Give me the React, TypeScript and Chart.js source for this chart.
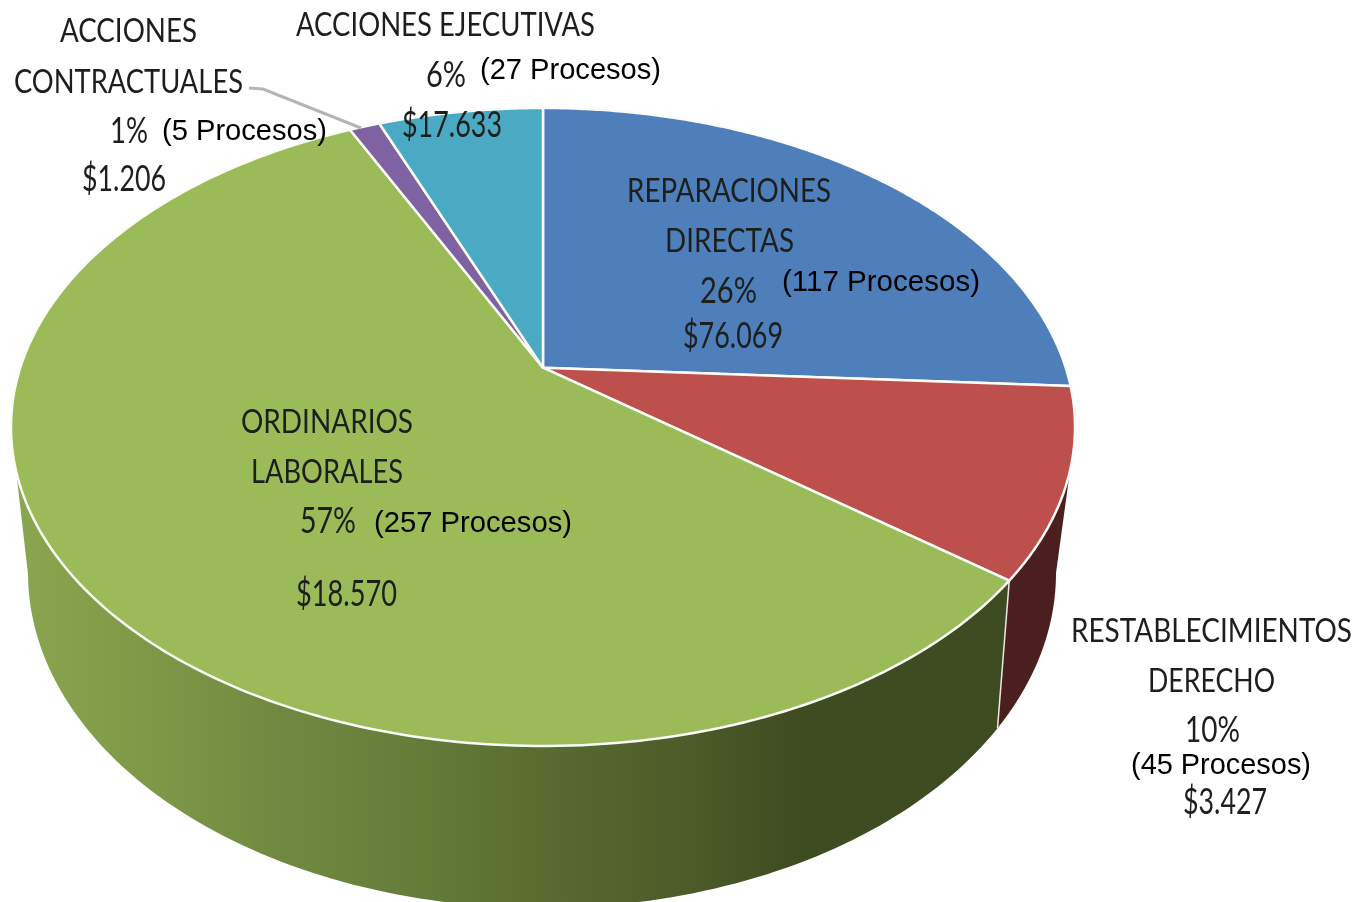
import React, { useEffect, useRef } from "react";
import { Chart, registerables, ArcElement, PieController } from "chart.js";

const categories = ["REPARACIONES DIRECTAS", "RESTABLECIMIENTOS DERECHO", "ORDINARIOS LABORALES", "ACCIONES CONTRACTUALES", "ACCIONES EJECUTIVAS"];
const processCounts = [117, 45, 257, 5, 27];
const sliceColors = ["#4f7fba", "#bd4f4c", "#9bbb59", "#7f62a1", "#4aaac4"];

const condensedTexts = [
  "ACCIONES", "CONTRACTUALES", "1%", "$1.206",
  "ACCIONES EJECUTIVAS", "6%", "$17.633",
  "REPARACIONES", "DIRECTAS", "26%", "$76.069",
  "ORDINARIOS", "LABORALES", "57%", "$18.570",
  "RESTABLECIMIENTOS", "DERECHO", "10%", "$3.427",
];
// left, right, baseline
const condensedBoxes = [
  [60, 197, 42], [14, 243, 93], [110, 148, 143], [82, 166, 191],
  [296, 595, 36], [426, 466, 87], [402, 502, 137],
  [627, 831, 202], [665, 794, 252], [700, 757, 303], [683, 783, 348],
  [241, 413, 433], [251, 403, 483], [300, 356, 533], [296, 397, 606],
  [1071, 1352, 642], [1148, 1275, 692], [1185, 1240, 742], [1183, 1267, 814],
];
const processTexts = ["(5 Procesos)", "(27 Procesos)", "(117 Procesos)", "(257 Procesos)", "(45 Procesos)"];
const processBoxes = [
  [162, 327, 140], [480, 661, 79], [782, 980, 291], [374, 572, 532], [1131, 1311, 774],
];

// geometry of the tilted disc
const DEG = Math.PI / 180;
const TOP = { cx: 543, cy: 427, rx: 532, ry: 319, k: -0.186 };
const BOTTOM = { cx: 542, cy: 573, rx: 514, ry: 335 };
const WALL_T_RIGHT = 7.8 * DEG;
const WALL_T_LEFT = 172.2 * DEG;
const WALL_T_SEAM = 28.7 * DEG;
const WALL_B_SEAM = 27.6 * DEG;

function apparentAngle(angle: number) {
  // small correction of the perspective along the front of the disc
  let theta = angle + Math.PI / 2;
  if (theta < 0) theta += 2 * Math.PI;
  const a = 93.39 * DEG;
  const b = 334.4 * DEG;
  if (theta <= a || theta >= b) return angle;
  return angle - 0.059 * Math.sin(0.75 * (theta - a));
}
function project(angleIn: number) {
  const angle = apparentAngle(angleIn);
  const u = Math.cos(angle);
  const v = Math.sin(angle);
  const d = 1 + TOP.k * v;
  const up = (Math.sqrt(1 - TOP.k * TOP.k) * u) / d;
  const vp = (v + TOP.k) / d;
  return { u: up, v: vp, t: Math.atan2(vp, up) };
}
const topPoint = (t: number) => [TOP.cx + TOP.rx * Math.cos(t), TOP.cy + TOP.ry * Math.sin(t)];
function bottomPoint(t: number) {
  const b =
    t <= WALL_T_SEAM
      ? ((t - WALL_T_RIGHT) / (WALL_T_SEAM - WALL_T_RIGHT)) * WALL_B_SEAM
      : WALL_B_SEAM + ((t - WALL_T_SEAM) / (WALL_T_LEFT - WALL_T_SEAM)) * (Math.PI - WALL_B_SEAM);
  return [BOTTOM.cx + BOTTOM.rx * Math.cos(b), BOTTOM.cy + BOTTOM.ry * Math.sin(b)];
}
function wallPaint(ctx: CanvasRenderingContext2D, index: number) {
  if (index === 1) return "#4c1f1f";
  const g = ctx.createLinearGradient(15, 0, 1010, 0);
  const stops: [number, string][] = [
    [0, "#8ba650"], [0.115, "#7f9b48"], [0.266, "#6f8a40"], [0.387, "#657f3a"],
    [0.53, "#586b30"], [0.68, "#4c5b29"], [0.79, "#3f4b20"], [1, "#3e4a20"],
  ];
  stops.forEach(([o, c]) => g.addColorStop(o, c));
  return g;
}

class PerspectiveArc extends (ArcElement as any) {
  static id = "perspectiveArc";
  draw(ctx: CanvasRenderingContext2D) {
    const { startAngle, endAngle } = this.getProps(["startAngle", "endAngle"], true);
    const index = (this as any).$context?.dataIndex ?? 0;
    const opts = this.options;
    const pts: number[][] = [];
    const ts: number[] = [];
    const N = 200;
    for (let i = 0; i <= N; i++) {
      const t = project(startAngle + ((endAngle - startAngle) * i) / N).t;
      pts.push(topPoint(t));
      if (t >= WALL_T_RIGHT && t <= WALL_T_LEFT) ts.push(t);
    }
    // side wall
    if (ts.length > 1) {
      ctx.save();
      ctx.beginPath();
      ts.forEach((t, i) => {
        const [x, y] = topPoint(t);
        if (i === 0) ctx.moveTo(x, y);
        else ctx.lineTo(x, y);
      });
      for (let i = ts.length - 1; i >= 0; i--) {
        const [x, y] = bottomPoint(ts[i]);
        ctx.lineTo(x, y);
      }
      ctx.closePath();
      ctx.fillStyle = wallPaint(ctx, index);
      ctx.fill();
      ctx.restore();
      if (index === 2) {
        const [x1, y1] = topPoint(ts[0]);
        const [x2, y2] = bottomPoint(WALL_T_SEAM);
        ctx.save();
        ctx.strokeStyle = "#e8e8e0";
        ctx.lineWidth = 1.5;
        ctx.beginPath();
        ctx.moveTo(x1, y1);
        ctx.lineTo(x2, y2);
        ctx.stroke();
        ctx.restore();
      }
    }
    // top surface
    ctx.save();
    const apex = [TOP.cx, TOP.cy + TOP.ry * TOP.k];
    ctx.beginPath();
    ctx.moveTo(apex[0], apex[1]);
    pts.forEach(([x, y]) => ctx.lineTo(x, y));
    ctx.closePath();
    ctx.fillStyle = opts.backgroundColor;
    ctx.fill();
    ctx.strokeStyle = opts.borderColor;
    ctx.lineWidth = opts.borderWidth;
    ctx.lineJoin = "round";
    ctx.stroke();
    ctx.restore();
  }
}

class PerspectivePie extends (PieController as any) {
  static id = "perspectivePie";
  static defaults = { dataElementType: "perspectiveArc" };
}

Chart.register(...registerables);
Chart.register(PerspectiveArc as any, PerspectivePie as any);

function fitText(ctx: CanvasRenderingContext2D, text: string, box: number[], font: string, color: string) {
  ctx.save();
  ctx.font = font;
  ctx.fillStyle = color;
  ctx.textAlign = "left";
  ctx.textBaseline = "alphabetic";
  const w = ctx.measureText(text).width;
  ctx.translate(box[0], box[2]);
  ctx.scale((box[1] - box[0]) / w, 1);
  ctx.fillText(text, 0, 0);
  ctx.restore();
}

const labelsPlugin = {
  id: "labelsPlugin",
  afterDraw(chart: any) {
    const ctx: CanvasRenderingContext2D = chart.ctx;
    ctx.save();
    ctx.strokeStyle = "#b5b5b5";
    ctx.lineWidth = 3;
    ctx.beginPath();
    ctx.moveTo(249, 88);
    ctx.lineTo(263, 89);
    ctx.lineTo(361, 128);
    ctx.stroke();
    ctx.restore();
    condensedTexts.forEach((t, i) =>
      fitText(ctx, t, condensedBoxes[i], /[$%]/.test(t) ? "36px Lato" : "32px Lato", "#1c1f1c")
    );
    processTexts.forEach((t, i) => fitText(ctx, t, processBoxes[i], '30px "Liberation Sans"', "#000000"));
  },
};

export default function App() {
  const ref = useRef<HTMLCanvasElement>(null);
  useEffect(() => {
    const chart = new Chart(ref.current as HTMLCanvasElement, {
      type: "perspectivePie" as any,
      data: {
        labels: categories,
        datasets: [
          {
            data: processCounts,
            backgroundColor: sliceColors,
            borderColor: "#fbfcf8",
            borderWidth: 2.5,
          },
        ],
      },
      options: {
        responsive: false,
        animation: false,
        plugins: { legend: { display: false }, tooltip: { enabled: false } },
      } as any,
      plugins: [labelsPlugin],
    });
    return () => chart.destroy();
  }, []);
  return (
    <div style={{ position: "fixed", left: 0, top: 0, width: 1366, height: 902, background: "#fff", overflow: "hidden" }}>
      <canvas ref={ref} width={1366} height={902} style={{ display: "block" }} />
    </div>
  );
}
